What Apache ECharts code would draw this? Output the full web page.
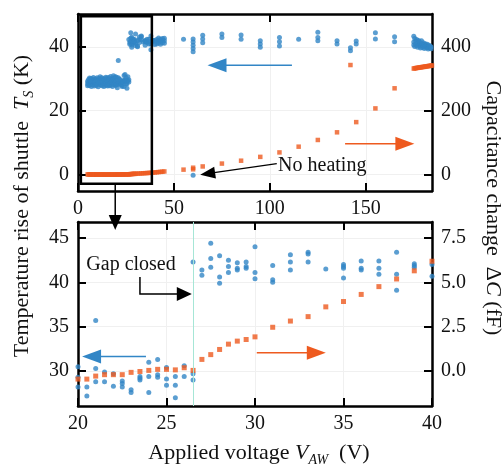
<!DOCTYPE html>
<html><head><meta charset="utf-8">
<script src="https://cdn.jsdelivr.net/npm/echarts@6/dist/echarts.min.js"></script>
<style>html,body{margin:0;padding:0;background:#fff}#c{width:504px;height:469px}</style>
</head><body><div id="c"></div><script>
// ---------- DATA ----------
// Temperature rise Ts (K): rows = [voltage, reading, reading, ...]
const tsRows = [
  [5,29.2,28.4,27.8],[5.5,28.9,29.8,28.1],[6,30.2,28.6,27.9],[6.5,29.4,28.2,29.9],[7,28.7,30.1,27.6],
  [7.5,29.6,28.3,29.0],[8,28.1,29.3,30.4],[8.5,29.8,28.8,27.7],[9,30.0,28.5,29.1],[9.5,28.4,29.6,27.9],
  [10,29.3,30.3,28.2],[10.5,28.6,29.5,27.5],[11,30.1,28.9,29.7],[11.5,28.2,29.4,30.6],[12,29.7,28.0,28.8],
  [12.5,30.3,29.1,27.8],[13,28.5,29.9,28.9],[13.5,29.2,27.6,30.0],[14,28.7,29.8,28.3],[14.5,30.5,29.0,27.9],
  [15,28.4,29.6,30.2],[15.5,29.1,28.1,27.7],[16,30.4,28.8,29.5],[16.5,28.3,29.7,27.8],[17,29.9,28.6,30.7],
  [17.5,28.0,29.3,28.9],[18,30.1,29.5,27.6],[18.5,28.7,29.8,30.9],[19,29.4,28.2,30.3],[19.5,28.9,30.6,27.9],
  [20,30.5,29.3,28.2],[20.5,28.2,27.2],[21,35.7,30.3,28.8],[21.5,29.9,28.8],[22,29.7,28.3],
  [22.5,28.9,28.6,28.2],[23,27.9,27.6],[23.5,29.4,29.2,29.0],[24,31.0,29.4,27.6],[24.5,31.3,29.6,29.3],
  [25,30.4,29.1,28.4],[25.5,29.4,28.4,27.0],[26,30.6,29.4],[26.5,42.3,29.7,29.0],[27,41.4,40.8],
  [27.5,44.4,42.7,41.7],[28,43.0,40.6,39.9],[28.5,42.5,41.8,41.1],[29,42.2,41.6,41.4],[29.5,42.3,41.8,41.6],
  [30,44.0,41.1,40.4],[31,41.9,40.3,40.0],[32,43.1,42.3,41.4],[33,43.4,43.2,42.3],[34,41.5],
  [35,42.0,41.8,41.6,40.5],[36,42.4,41.6,41.4],[37,42.4,41.6,40.9],[38,43.4,40.9,39.1],[39,42.1,41.9,41.7],
  [40,40.7,42.0],[41,42.3,41.5,40.9],[42,42.0,41.2,42.8],[43,41.7,42.4,40.8],[44,42.1,41.3,42.6],[45,41.9,42.7,41.1],
  [55,42.4],[60,42.5,41.5,40.5,39.5,38.5,-0.3],[65,43.6,42.5,41.3],[75,44.0,42.9],[85,43.7,42.4],
  [95,41.9,40.9,39.9],[105,42.9,41.6,40.3],[115,42.4],[125,44.6,42.9,41.9],[135,41.9,40.9],
  [142,39.7,38.8],[145,41.8,40.9],[155,44.4,42.5],[165,43.2,41.6],
  [175,43.3,41.5,40.6],[175.5,42.6,40.1],[176,41.8,40.9],[176.5,42.3,40.4],[177,41.2,39.9],[177.5,42.0,40.7],
  [178,40.3,41.6],[178.5,41.0,39.6],[179,40.6,41.9],[179.5,39.8,40.9],[180,40.2,41.3],[180.5,39.5,40.7],
  [181,40.1,41.0],[181.5,39.7,40.4],[182,40.8,39.9],[182.5,40.0,39.3],[183,40.5,39.8],[183.5,39.6,40.2],[184,40.0,39.4]
];
// Capacitance change dC (fF): rows = [voltage, reading, ...]
const dcRows = [
  [5,-0.1],[5.5,-0.2],[6,-0.1],[6.5,-0.3],[7,-0.2],[7.5,-0.3],[8,-0.2],[8.5,-0.4],[9,-0.3],[9.5,-0.3],
  [10,-0.4],[10.5,-0.3],[11,-0.4],[11.5,-0.5],[12,-0.4],[12.5,-0.5],[13,-0.4],[13.5,-0.5],[14,-0.5],[14.5,-0.4],
  [15,-0.5],[15.5,-0.6],[16,-0.5],[16.5,-0.5],[17,-0.6],[17.5,-0.5],[18,-0.5],[18.5,-0.6],[19,-0.5],[19.5,-0.5],
  [20,-0.45],[20.5,-0.45],[21,-0.28],[21.5,-0.2],[22,-0.2],[22.5,-0.2],[23,-0.07],[23.5,-0.02],[24,0.04],
  [24.5,0.1],[25,0.1],[25.5,0.07],[26,0.19],[26.5,0.04],[27,0.66],[27.5,0.93],[28,1.22],[28.5,1.52],
  [29,1.69],[29.5,1.78],[30,1.93],[31,2.47],[32,2.82],[33,3.07],[34,3.62],[35,3.92],[36,4.32],[37,4.76],
  [38,5.19],[39,5.65],[40,6.19],[41,6.8],[42,7.4],[43,8.0],[44,8.6],[45,9.3],
  [55,15],[60,16,21],[65,25],[75,34],[85,43],[95,55],[105,69],[115,87],[125,108],[135,132],
  [142,343],[145,164],[155,207],[165,270],
  [175,332],[175.5,332.8],[176,333.1],[176.5,333.9],[177,334.2],[177.5,334.6],[178,335.3],[178.5,335.5],
  [179,336.2],[179.5,336.8],[180,337.1],[180.5,337.4],[181,338.2],[181.5,338.5],[182,339.1],[182.5,339.6],
  [183,340.2],[183.5,340.4],[184,341.1],[184.5,341.6]
];
const topXTicks = [0, 50, 100, 150];
const topTsTicks = [0, 20, 40];
const topDcTicks = [0, 200, 400];
const botXTicks = [20, 25, 30, 35, 40];
const botTsTicks = [30, 35, 40, 45];
const botDcTicks = [0, 2.5, 5, 7.5];
const gapClosedV = 26.5;

// ---------- BUILD ----------
function flat(rows){const o=[];rows.forEach(r=>{for(let i=1;i<r.length;i++)o.push([r[0],r[i]]);});return o;}
const tsPts = flat(tsRows), dcPts = flat(dcRows);
const BLUE='#3286c6', ORANGE='#ee5a1f', FONT='Liberation Serif';
const chart = echarts.init(document.getElementById('c'), null, {renderer:'canvas'});
const G0={left:78,top:14,width:354,height:177}, G1={left:78,top:222,width:354,height:184};
function xAx(grid,pos,min,max,ticks,labels){
  return {type:'value',gridIndex:grid,position:pos,min:min,max:max,
    axisLine:{show:true,onZero:false,lineStyle:{color:'#000',width:2.5}},
    axisTick:{show:true,inside:true,length:8,customValues:ticks,lineStyle:{color:'#000',width:2}},
    axisLabel:{show:labels,customValues:ticks,margin:8,fontFamily:FONT,fontSize:20,color:'#111'},
    splitLine:{show:labels,lineStyle:{color:'#f0f0f0',width:1}}};
}
function yAx(grid,pos,min,max,ticks,labels,fmt,split){
  return {type:'value',gridIndex:grid,position:pos,min:min,max:max,
    axisLine:{show:true,onZero:false,lineStyle:{color:'#000',width:2.5}},
    axisTick:{show:true,inside:true,length:8,customValues:ticks,lineStyle:{color:'#000',width:2}},
    axisLabel:{show:labels,customValues:ticks,margin:9,fontFamily:FONT,fontSize:20,color:'#111',formatter:fmt},
    splitLine:{show:split,lineStyle:{color:'#f0f0f0',width:1}}};
}
chart.setOption({
  animation:false,
  grid:[G0,G1],
  xAxis:[xAx(0,'bottom',0,184.5,topXTicks,true),xAx(0,'top',0,184.5,topXTicks,false),
         xAx(1,'bottom',20,40,botXTicks,true),xAx(1,'top',20,40,botXTicks,false)],
  yAxis:[yAx(0,'left',-5.2,50.3,topTsTicks,true,null,true),yAx(0,'right',-52,503,topDcTicks,true,null,false),
         yAx(1,'left',26.07,46.8,botTsTicks,true,null,true),yAx(1,'right',-1.965,8.4,botDcTicks,true,v=>v.toFixed(1),false)],
  series:[
    {type:'scatter',xAxisIndex:0,yAxisIndex:1,data:dcPts,symbol:'rect',symbolSize:4.5,itemStyle:{color:ORANGE},z:2},
    {type:'scatter',xAxisIndex:0,yAxisIndex:0,data:tsPts,symbol:'circle',symbolSize:5,itemStyle:{color:BLUE},z:3},
    {type:'scatter',xAxisIndex:2,yAxisIndex:3,data:dcPts,symbol:'rect',symbolSize:5,itemStyle:{color:ORANGE},z:3,clip:true},
    {type:'scatter',xAxisIndex:2,yAxisIndex:2,data:tsPts,symbol:'circle',symbolSize:5,itemStyle:{color:BLUE},z:2,clip:true,
      markLine:{silent:true,symbol:'none',label:{show:false},lineStyle:{color:'#a6e6d6',width:1,type:'solid'},data:[{xAxis:gapClosedV}]}}
  ]
});
// ---------- ANNOTATIONS ----------
const p0=(v,t)=>chart.convertToPixel({xAxisIndex:0,yAxisIndex:0},[v,t]);
const p1=(v,t)=>chart.convertToPixel({xAxisIndex:2,yAxisIndex:2},[v,t]);
function arrow(a,b,color,lw,hl,hw){
  const dx=b[0]-a[0],dy=b[1]-a[1],L=Math.hypot(dx,dy),ux=dx/L,uy=dy/L,bx=b[0]-ux*hl,by=b[1]-uy*hl,nx=-uy,ny=ux;
  return [{type:'line',shape:{x1:a[0],y1:a[1],x2:bx+ux,y2:by+uy},style:{stroke:color,lineWidth:lw},z:50},
          {type:'polygon',shape:{points:[[b[0],b[1]],[bx+nx*hw/2,by+ny*hw/2],[bx-nx*hw/2,by-ny*hw/2]]},style:{fill:color},z:51}];
}
const g=[];
const bA=p0(1.5,49.6), bB=p0(38.5,-2.9);
g.push({type:'rect',shape:{x:bA[0],y:bA[1],width:bB[0]-bA[0],height:bB[1]-bA[1]},style:{fill:'none',stroke:'#000',lineWidth:2.5},z:40});
const dA=p0(19.4,-2.9), dB=p1(22.1,45.9);
g.push(...arrow([dA[0],dA[1]],[dA[0],dB[1]],'#000',1.5,15,13));
g.push(...arrow(p0(111.5,34.2),p0(67.5,34.2),BLUE,1.5,19,14));
g.push(...arrow(p0(139.2,9.65),p0(175.3,9.65),ORANGE,1.5,19,14));
const nh=p0(104.3,2.6);
g.push({type:'text',x:nh[0],y:nh[1],style:{text:'No heating',fontFamily:FONT,fontSize:20,fill:'#111',align:'left',verticalAlign:'middle'},z:55});
g.push(...arrow(p0(103.6,3.4),p0(63.7,-0.1),'#000',1.2,15,12));
const gc=p1(20.47,42.0);
g.push({type:'text',x:gc[0],y:gc[1],style:{text:'Gap closed',fontFamily:FONT,fontSize:20,fill:'#111',align:'left',verticalAlign:'middle'},z:55});
const e0=p1(23.5,40.6), e1=p1(23.5,38.7), e2=p1(26.43,38.7);
g.push({type:'polyline',shape:{points:[e0,e1,[e2[0]-14,e2[1]]]},style:{stroke:'#000',lineWidth:1.5,fill:null},z:50});
g.push(...arrow(e1,e2,'#000',0.1,15,14));
g.push(...arrow(p1(23.84,31.65),p1(20.23,31.65),BLUE,1.5,19,14));
g.push(...arrow(p1(30.1,32.07),p1(34.0,32.07),ORANGE,1.5,19,14));
const rich={n:{fontFamily:FONT,fontSize:22,lineHeight:28,fill:'#111'},
            i:{fontFamily:FONT,fontSize:22,fontStyle:'italic',lineHeight:28,fill:'#111'},
            s:{fontFamily:FONT,fontSize:14,fontStyle:'italic',lineHeight:28,verticalAlign:'bottom',fill:'#111'}};
g.push({type:'text',x:22,y:206,rotation:Math.PI/2,style:{text:'{n|Temperature rise of shuttle  }{i|T}{s|S}{n| (K)}',rich:rich,align:'center',verticalAlign:'middle'}});
g.push({type:'text',x:493,y:208,rotation:-Math.PI/2,style:{text:'{n|Capacitance change  Δ}{i|C}{n| (fF)}',rich:rich,align:'center',verticalAlign:'middle'}});
g.push({type:'text',x:259,y:453,style:{text:'{n|Applied voltage }{i|V}{s|AW}{n|  (V)}',rich:rich,align:'center',verticalAlign:'middle'}});
chart.setOption({graphic:g});
</script></body></html>
